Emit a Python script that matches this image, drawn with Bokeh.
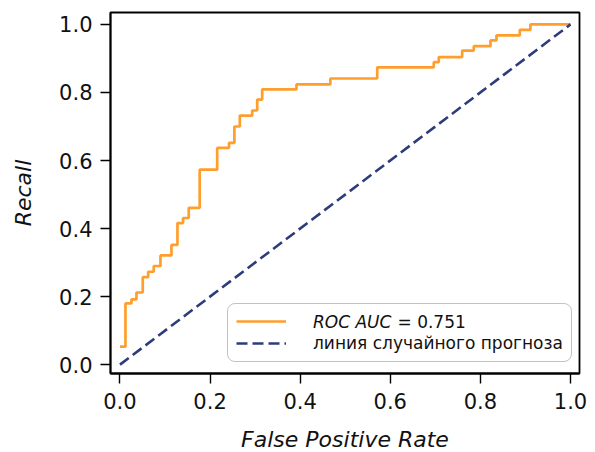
from bokeh.plotting import figure
from bokeh.models import Range1d, Legend, LegendItem, Label, FixedTicker
from bokeh.embed import file_html
from bokeh.resources import INLINE

# ---- data ----
fpr_steps = [0.0, 0.0122, 0.0255, 0.0366, 0.0506, 0.0626, 0.075, 0.0899, 0.1143, 0.1276,
             0.140, 0.1527, 0.177, 0.2158, 0.242, 0.254, 0.266, 0.2935, 0.3046, 0.3157,
             0.3918, 0.467, 0.571, 0.6966, 0.7077, 0.7596, 0.7853, 0.8224, 0.8357, 0.8875,
             0.911, 1.0]
tpr_steps = [0.053, 0.180, 0.192, 0.212, 0.257, 0.273, 0.290, 0.321, 0.352, 0.416,
             0.431, 0.461, 0.573, 0.637, 0.652, 0.700, 0.732, 0.747, 0.779, 0.809,
             0.824, 0.841, 0.874, 0.889, 0.904, 0.923, 0.936, 0.953, 0.968, 0.984,
             1.0, 1.0]
diag_x = [0.0, 1.0]
diag_y = [0.0, 1.0]
roc_auc_text = "= 0.751"
roc_auc_name = "ROC AUC"
random_label = "линия случайного прогноза"
x_ticks = [0.0, 0.2, 0.4, 0.6, 0.8, 1.0]
x_tick_labels = ["0.0", "0.2", "0.4", "0.6", "0.8", "1.0"]
y_ticks = [0.0, 0.2, 0.4, 0.6, 0.8, 1.0]
y_tick_labels = ["0.0", "0.2", "0.4", "0.6", "0.8", "1.0"]

FONT = "DejaVu Sans"
ORANGE = "#FF9E2C"
NAVY = "#2E3C7A"

X0, X1 = -0.021, 1.020
Y0, Y1 = -0.026, 1.035
FW, FH = 469, 361
BL, BR, BT, BB = 110, 16, 12, 79

p = figure(frame_width=FW, frame_height=FH,
           x_range=Range1d(X0, X1), y_range=Range1d(Y0, Y1),
           output_backend="svg", toolbar_location=None,
           min_border_left=BL, min_border_right=BR, min_border_top=BT, min_border_bottom=BB)

p.xgrid.visible = False
p.ygrid.visible = False
p.outline_line_color = "black"
p.outline_line_width = 1.8
p.background_fill_color = "white"
p.border_fill_color = "white"

for ax, ticks, labels in ((p.xaxis[0], x_ticks, x_tick_labels), (p.yaxis[0], y_ticks, y_tick_labels)):
    ax.ticker = FixedTicker(ticks=ticks)
    ax.major_label_overrides = {t: l for t, l in zip(ticks, labels)}
    ax.minor_tick_line_color = None
    ax.major_tick_in = 0
    ax.major_tick_out = 10
    ax.major_tick_line_width = 1.4
    ax.major_tick_line_color = "black"
    ax.axis_line_color = "black"
    ax.axis_line_width = 1.8
    ax.major_label_text_font = FONT
    ax.major_label_text_font_size = "21px"
    ax.major_label_text_color = "#111111"
    ax.axis_label_text_font = FONT
    ax.axis_label_text_font_size = "22px"
    ax.axis_label_text_font_style = "italic"
    ax.axis_label_text_color = "#111111"

p.xaxis.axis_label = "False Positive Rate"
p.yaxis.axis_label = "Recall"
p.xaxis.major_label_standoff = 9
p.yaxis.major_label_standoff = 8
p.xaxis.axis_label_standoff = 15
p.yaxis.axis_label_standoff = 20


def sx(px):
    return X0 + (px - BL) / FW * (X1 - X0)


def sy(py):
    return Y1 - (py - BT) / FH * (Y1 - Y0)


lab1 = Label(x=sx(312.5), y=sy(321), text=roc_auc_name, text_font=FONT,
             text_font_size="17px", text_font_style="italic", text_color="#111111",
             text_baseline="middle", text_align="left")
lab2 = Label(x=sx(397), y=sy(321), text=roc_auc_text, text_font=FONT,
             text_font_size="17px", text_color="#111111",
             text_baseline="middle", text_align="left")

r1 = p.step(fpr_steps, tpr_steps, mode="after", line_color=ORANGE, line_width=2.7)
r2 = p.line(diag_x, diag_y, line_color=NAVY, line_width=2.6, line_dash="11 5")

legend = Legend(items=[LegendItem(label=" ", renderers=[r1]),
                       LegendItem(label=random_label, renderers=[r2])],
                location=(117, 11))
legend.label_text_font = FONT
legend.label_text_font_size = "17px"
legend.label_text_color = "#111111"
legend.glyph_width = 50
legend.glyph_height = 18
legend.label_height = 18
legend.label_standoff = 27
legend.padding = 8
legend.spacing = 3
legend.margin = 0
legend.border_line_color = "#888888"
legend.border_line_width = 1
legend.background_fill_alpha = 0.0
if "border_radius" in Legend.properties():
    legend.border_radius = 8
p.add_layout(legend)
p.add_layout(lab1)
p.add_layout(lab2)

open("out.html", "w").write(file_html(p, INLINE))
